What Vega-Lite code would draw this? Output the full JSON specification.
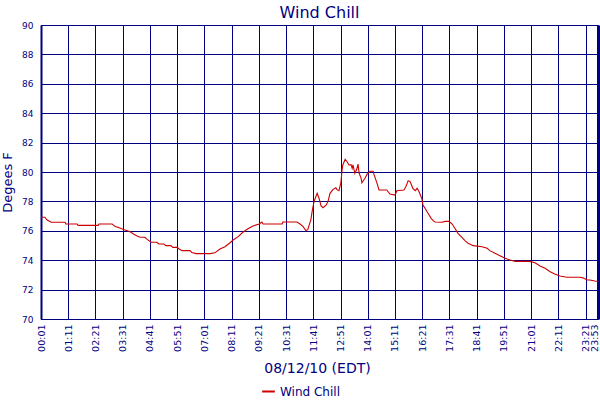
{
  "$schema": "https://vega.github.io/schema/vega-lite/v6.json",
  "width": 557,
  "height": 294,
  "autosize": {"type": "none"},
  "padding": {"left": 41, "top": 25, "right": 2, "bottom": 81},
  "background": "white",
  "title": {
    "text": "Wind Chill",
    "font": "DejaVu Sans",
    "fontSize": 16,
    "fontWeight": "normal",
    "color": "#000080",
    "anchor": "middle",
    "offset": 0
  },
  "config": {
    "view": {"stroke": "#000080", "strokeWidth": 1},
    "axis": {
      "labelFont": "DejaVu Sans",
      "titleFont": "DejaVu Sans",
      "labelColor": "#000080",
      "titleColor": "#000080",
      "titleFontWeight": "normal",
      "gridColor": "#000080",
      "gridOpacity": 1,
      "gridWidth": 1,
      "domainColor": "#000080",
      "ticks": false
    }
  },
  "data": {
    "values": [
      {"Time": "2010-08-12T00:01", "WindChill": 76.92},
      {"Time": "2010-08-12T00:11", "WindChill": 76.92},
      {"Time": "2010-08-12T00:16", "WindChill": 76.75},
      {"Time": "2010-08-12T00:27", "WindChill": 76.58},
      {"Time": "2010-08-12T01:03", "WindChill": 76.58},
      {"Time": "2010-08-12T01:05", "WindChill": 76.46},
      {"Time": "2010-08-12T01:34", "WindChill": 76.46},
      {"Time": "2010-08-12T01:36", "WindChill": 76.37},
      {"Time": "2010-08-12T02:28", "WindChill": 76.37},
      {"Time": "2010-08-12T02:30", "WindChill": 76.46},
      {"Time": "2010-08-12T03:04", "WindChill": 76.46},
      {"Time": "2010-08-12T03:11", "WindChill": 76.3},
      {"Time": "2010-08-12T03:27", "WindChill": 76.15},
      {"Time": "2010-08-12T03:37", "WindChill": 76.05},
      {"Time": "2010-08-12T03:50", "WindChill": 75.94},
      {"Time": "2010-08-12T04:00", "WindChill": 75.76},
      {"Time": "2010-08-12T04:08", "WindChill": 75.65},
      {"Time": "2010-08-12T04:16", "WindChill": 75.56},
      {"Time": "2010-08-12T04:28", "WindChill": 75.56},
      {"Time": "2010-08-12T04:34", "WindChill": 75.42},
      {"Time": "2010-08-12T04:44", "WindChill": 75.22},
      {"Time": "2010-08-12T04:59", "WindChill": 75.22},
      {"Time": "2010-08-12T05:04", "WindChill": 75.1},
      {"Time": "2010-08-12T05:17", "WindChill": 75.1},
      {"Time": "2010-08-12T05:22", "WindChill": 74.99},
      {"Time": "2010-08-12T05:35", "WindChill": 74.99},
      {"Time": "2010-08-12T05:40", "WindChill": 74.87},
      {"Time": "2010-08-12T05:51", "WindChill": 74.87},
      {"Time": "2010-08-12T05:56", "WindChill": 74.76},
      {"Time": "2010-08-12T06:04", "WindChill": 74.65},
      {"Time": "2010-08-12T06:24", "WindChill": 74.65},
      {"Time": "2010-08-12T06:29", "WindChill": 74.53},
      {"Time": "2010-08-12T06:40", "WindChill": 74.45},
      {"Time": "2010-08-12T07:03", "WindChill": 74.45},
      {"Time": "2010-08-12T07:16", "WindChill": 74.45},
      {"Time": "2010-08-12T07:28", "WindChill": 74.5},
      {"Time": "2010-08-12T07:41", "WindChill": 74.76},
      {"Time": "2010-08-12T07:54", "WindChill": 74.92},
      {"Time": "2010-08-12T08:07", "WindChill": 75.19},
      {"Time": "2010-08-12T08:15", "WindChill": 75.37},
      {"Time": "2010-08-12T08:28", "WindChill": 75.6},
      {"Time": "2010-08-12T08:40", "WindChill": 75.9},
      {"Time": "2010-08-12T08:53", "WindChill": 76.14},
      {"Time": "2010-08-12T09:06", "WindChill": 76.33},
      {"Time": "2010-08-12T09:22", "WindChill": 76.46},
      {"Time": "2010-08-12T09:29", "WindChill": 76.6},
      {"Time": "2010-08-12T09:32", "WindChill": 76.46},
      {"Time": "2010-08-12T10:21", "WindChill": 76.46},
      {"Time": "2010-08-12T10:23", "WindChill": 76.6},
      {"Time": "2010-08-12T10:59", "WindChill": 76.6},
      {"Time": "2010-08-12T11:07", "WindChill": 76.46},
      {"Time": "2010-08-12T11:15", "WindChill": 76.28},
      {"Time": "2010-08-12T11:22", "WindChill": 76.0},
      {"Time": "2010-08-12T11:27", "WindChill": 76.1},
      {"Time": "2010-08-12T11:35", "WindChill": 76.78},
      {"Time": "2010-08-12T11:38", "WindChill": 77.3},
      {"Time": "2010-08-12T11:43", "WindChill": 78.0},
      {"Time": "2010-08-12T11:51", "WindChill": 78.55},
      {"Time": "2010-08-12T11:56", "WindChill": 78.2},
      {"Time": "2010-08-12T12:01", "WindChill": 77.69},
      {"Time": "2010-08-12T12:06", "WindChill": 77.57},
      {"Time": "2010-08-12T12:14", "WindChill": 77.75},
      {"Time": "2010-08-12T12:19", "WindChill": 78.0},
      {"Time": "2010-08-12T12:24", "WindChill": 78.55},
      {"Time": "2010-08-12T12:32", "WindChill": 78.82},
      {"Time": "2010-08-12T12:39", "WindChill": 78.93},
      {"Time": "2010-08-12T12:42", "WindChill": 78.8},
      {"Time": "2010-08-12T12:47", "WindChill": 78.73},
      {"Time": "2010-08-12T12:52", "WindChill": 79.27},
      {"Time": "2010-08-12T12:55", "WindChill": 80.14},
      {"Time": "2010-08-12T12:57", "WindChill": 80.48},
      {"Time": "2010-08-12T13:03", "WindChill": 80.86},
      {"Time": "2010-08-12T13:08", "WindChill": 80.7},
      {"Time": "2010-08-12T13:13", "WindChill": 80.48},
      {"Time": "2010-08-12T13:18", "WindChill": 80.5},
      {"Time": "2010-08-12T13:21", "WindChill": 80.25},
      {"Time": "2010-08-12T13:23", "WindChill": 80.48},
      {"Time": "2010-08-12T13:28", "WindChill": 79.91},
      {"Time": "2010-08-12T13:33", "WindChill": 80.2},
      {"Time": "2010-08-12T13:36", "WindChill": 80.54},
      {"Time": "2010-08-12T13:39", "WindChill": 79.91},
      {"Time": "2010-08-12T13:44", "WindChill": 79.57},
      {"Time": "2010-08-12T13:46", "WindChill": 79.27},
      {"Time": "2010-08-12T13:54", "WindChill": 79.57},
      {"Time": "2010-08-12T13:59", "WindChill": 79.84},
      {"Time": "2010-08-12T14:07", "WindChill": 80.05},
      {"Time": "2010-08-12T14:15", "WindChill": 80.05},
      {"Time": "2010-08-12T14:17", "WindChill": 79.84},
      {"Time": "2010-08-12T14:25", "WindChill": 79.23},
      {"Time": "2010-08-12T14:30", "WindChill": 78.78},
      {"Time": "2010-08-12T14:50", "WindChill": 78.78},
      {"Time": "2010-08-12T14:58", "WindChill": 78.5},
      {"Time": "2010-08-12T15:11", "WindChill": 78.43},
      {"Time": "2010-08-12T15:16", "WindChill": 78.73},
      {"Time": "2010-08-12T15:34", "WindChill": 78.78},
      {"Time": "2010-08-12T15:39", "WindChill": 79.0},
      {"Time": "2010-08-12T15:45", "WindChill": 79.41},
      {"Time": "2010-08-12T15:50", "WindChill": 79.35},
      {"Time": "2010-08-12T15:57", "WindChill": 78.89},
      {"Time": "2010-08-12T16:03", "WindChill": 78.73},
      {"Time": "2010-08-12T16:08", "WindChill": 78.89},
      {"Time": "2010-08-12T16:13", "WindChill": 78.66},
      {"Time": "2010-08-12T16:20", "WindChill": 78.2},
      {"Time": "2010-08-12T16:23", "WindChill": 77.75},
      {"Time": "2010-08-12T16:31", "WindChill": 77.41},
      {"Time": "2010-08-12T16:36", "WindChill": 77.19},
      {"Time": "2010-08-12T16:44", "WindChill": 76.85},
      {"Time": "2010-08-12T16:49", "WindChill": 76.69},
      {"Time": "2010-08-12T16:54", "WindChill": 76.6},
      {"Time": "2010-08-12T17:12", "WindChill": 76.58},
      {"Time": "2010-08-12T17:20", "WindChill": 76.64},
      {"Time": "2010-08-12T17:30", "WindChill": 76.64},
      {"Time": "2010-08-12T17:38", "WindChill": 76.46},
      {"Time": "2010-08-12T17:45", "WindChill": 76.17},
      {"Time": "2010-08-12T17:53", "WindChill": 75.83},
      {"Time": "2010-08-12T18:03", "WindChill": 75.56},
      {"Time": "2010-08-12T18:11", "WindChill": 75.33},
      {"Time": "2010-08-12T18:19", "WindChill": 75.15},
      {"Time": "2010-08-12T18:32", "WindChill": 74.99},
      {"Time": "2010-08-12T18:55", "WindChill": 74.92},
      {"Time": "2010-08-12T19:08", "WindChill": 74.81},
      {"Time": "2010-08-12T19:15", "WindChill": 74.65},
      {"Time": "2010-08-12T19:28", "WindChill": 74.47},
      {"Time": "2010-08-12T19:41", "WindChill": 74.31},
      {"Time": "2010-08-12T19:54", "WindChill": 74.13},
      {"Time": "2010-08-12T20:07", "WindChill": 74.01},
      {"Time": "2010-08-12T20:20", "WindChill": 73.92},
      {"Time": "2010-08-12T20:58", "WindChill": 73.92},
      {"Time": "2010-08-12T21:11", "WindChill": 73.83},
      {"Time": "2010-08-12T21:24", "WindChill": 73.6},
      {"Time": "2010-08-12T21:37", "WindChill": 73.45},
      {"Time": "2010-08-12T21:50", "WindChill": 73.22},
      {"Time": "2010-08-12T22:02", "WindChill": 73.06},
      {"Time": "2010-08-12T22:15", "WindChill": 72.93},
      {"Time": "2010-08-12T22:33", "WindChill": 72.84},
      {"Time": "2010-08-12T23:07", "WindChill": 72.84},
      {"Time": "2010-08-12T23:14", "WindChill": 72.8},
      {"Time": "2010-08-12T23:25", "WindChill": 72.65},
      {"Time": "2010-08-12T23:32", "WindChill": 72.65},
      {"Time": "2010-08-12T23:45", "WindChill": 72.58},
      {"Time": "2010-08-12T23:53", "WindChill": 72.55}
    ]
  },
  "mark": {"type": "line", "strokeWidth": 1.1, "interpolate": "linear"},
  "encoding": {
    "x": {
      "field": "Time",
      "type": "temporal",
      "title": "08/12/10 (EDT)",
      "scale": {
        "domain": [
          {"year": 2010, "month": 8, "date": 12, "hours": 0, "minutes": 1},
          {"year": 2010, "month": 8, "date": 12, "hours": 23, "minutes": 53}
        ]
      },
      "axis": {
        "values": [
          {"year": 2010, "month": 8, "date": 12, "hours": 0, "minutes": 1},
          {"year": 2010, "month": 8, "date": 12, "hours": 1, "minutes": 11},
          {"year": 2010, "month": 8, "date": 12, "hours": 2, "minutes": 21},
          {"year": 2010, "month": 8, "date": 12, "hours": 3, "minutes": 31},
          {"year": 2010, "month": 8, "date": 12, "hours": 4, "minutes": 41},
          {"year": 2010, "month": 8, "date": 12, "hours": 5, "minutes": 51},
          {"year": 2010, "month": 8, "date": 12, "hours": 7, "minutes": 1},
          {"year": 2010, "month": 8, "date": 12, "hours": 8, "minutes": 11},
          {"year": 2010, "month": 8, "date": 12, "hours": 9, "minutes": 21},
          {"year": 2010, "month": 8, "date": 12, "hours": 10, "minutes": 31},
          {"year": 2010, "month": 8, "date": 12, "hours": 11, "minutes": 41},
          {"year": 2010, "month": 8, "date": 12, "hours": 12, "minutes": 51},
          {"year": 2010, "month": 8, "date": 12, "hours": 14, "minutes": 1},
          {"year": 2010, "month": 8, "date": 12, "hours": 15, "minutes": 11},
          {"year": 2010, "month": 8, "date": 12, "hours": 16, "minutes": 21},
          {"year": 2010, "month": 8, "date": 12, "hours": 17, "minutes": 31},
          {"year": 2010, "month": 8, "date": 12, "hours": 18, "minutes": 41},
          {"year": 2010, "month": 8, "date": 12, "hours": 19, "minutes": 51},
          {"year": 2010, "month": 8, "date": 12, "hours": 21, "minutes": 1},
          {"year": 2010, "month": 8, "date": 12, "hours": 22, "minutes": 11},
          {"year": 2010, "month": 8, "date": 12, "hours": 23, "minutes": 21},
          {"year": 2010, "month": 8, "date": 12, "hours": 23, "minutes": 53}
        ],
        "format": "%H:%M",
        "labelAngle": 270,
        "labelFontSize": 9.5,
        "labelPadding": 5,
        "labelOverlap": false,
        "labelFlush": false,
        "labelOffset": {
          "condition": {"test": "hours(datum.value) == 23 && minutes(datum.value) == 53", "value": -4},
          "value": 0
        },
        "grid": true,
        "gridWidth": {
          "condition": {"test": "hours(datum.value) == 23 && minutes(datum.value) == 53", "value": 3},
          "value": 1
        },
        "domain": false,
        "titleFontSize": 14,
        "titleBaseline": "alphabetic",
        "titleX": 276,
        "titleY": 53
      }
    },
    "y": {
      "field": "WindChill",
      "type": "quantitative",
      "title": "Degees F",
      "scale": {"domain": [70, 90], "nice": false, "zero": false},
      "axis": {
        "values": [70, 72, 74, 76, 78, 80, 82, 84, 86, 88, 90],
        "labelFontSize": 9,
        "labelPadding": 8,
        "labelFlush": false,
        "grid": true,
        "domain": true,
        "domainWidth": 2,
        "titleFontSize": 13,
        "titleBaseline": "alphabetic",
        "titleAngle": 270,
        "titleX": -30,
        "titleY": 157
      }
    },
    "color": {
      "datum": "Wind Chill",
      "type": "nominal",
      "scale": {"range": ["#cc0000"]},
      "legend": {
        "title": null,
        "orient": "none",
        "legendX": 220,
        "legendY": 359,
        "padding": 0,
        "symbolType": "stroke",
        "symbolStrokeWidth": 2,
        "symbolSize": 160,
        "labelFont": "DejaVu Sans",
        "labelFontSize": 12,
        "labelColor": "#000080",
        "labelOffset": 4
      }
    }
  }
}
